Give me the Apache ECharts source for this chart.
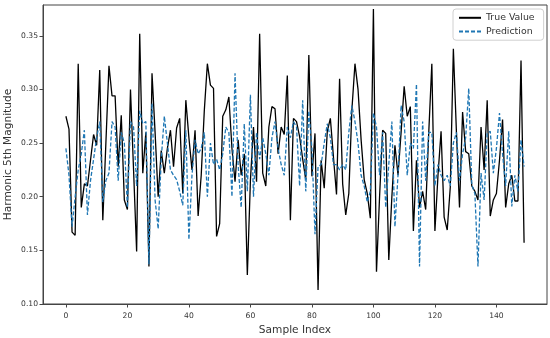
<!DOCTYPE html>
<html>
<head>
<meta charset="utf-8">
<script src="https://cdn.jsdelivr.net/npm/echarts@6/dist/echarts.min.js"></script>
<style>html,body{margin:0;padding:0;background:#fff}#chart{width:550px;height:338px}</style>
</head>
<body>
<div id="chart"></div>
<script>
const trueValues = [
0.275,0.263,0.167,0.164,0.324,0.19,0.212,0.21,0.234,0.258,
0.248,0.318,0.178,0.25,0.322,0.294,0.294,0.228,0.276,0.197,
0.188,0.3,0.225,0.149,0.352,0.222,0.26,0.135,0.315,0.26,
0.2,0.243,0.222,0.245,0.262,0.228,0.264,0.273,0.203,0.29,
0.255,0.225,0.262,0.182,0.22,0.28,0.324,0.304,0.301,0.163,
0.175,0.275,0.281,0.293,0.245,0.214,0.253,0.22,0.24,0.127,
0.215,0.265,0.214,0.352,0.222,0.21,0.265,0.284,0.282,0.24,
0.265,0.258,0.313,0.178,0.273,0.27,0.256,0.235,0.216,0.332,
0.219,0.259,0.113,0.234,0.208,0.261,0.273,0.237,0.202,0.31,
0.212,0.183,0.203,0.281,0.324,0.3,0.253,0.216,0.203,0.18,
0.375,0.13,0.2,0.262,0.259,0.141,0.2,0.248,0.22,0.26,
0.303,0.275,0.284,0.168,0.234,0.19,0.205,0.188,0.26,0.324,
0.168,0.22,0.261,0.181,0.169,0.209,0.338,0.26,0.19,0.279,
0.242,0.24,0.21,0.205,0.197,0.265,0.225,0.29,0.182,0.197,
0.203,0.234,0.272,0.19,0.212,0.22,0.196,0.196,0.327,0.157
];
const predictions = [
0.245,0.22,0.172,0.2,0.225,0.24,0.262,0.183,0.215,0.235,
0.255,0.27,0.195,0.215,0.222,0.27,0.265,0.215,0.26,0.25,
0.19,0.27,0.265,0.21,0.28,0.268,0.27,0.137,0.287,0.197,
0.17,0.235,0.275,0.25,0.225,0.22,0.216,0.205,0.192,0.262,
0.16,0.22,0.253,0.24,0.245,0.26,0.2,0.25,0.23,0.235,
0.225,0.24,0.265,0.26,0.2,0.315,0.23,0.19,0.268,0.205,
0.295,0.2,0.26,0.235,0.255,0.24,0.22,0.255,0.27,0.245,
0.23,0.22,0.265,0.255,0.27,0.265,0.21,0.29,0.205,0.28,
0.245,0.165,0.228,0.23,0.25,0.268,0.255,0.23,0.23,0.225,
0.23,0.225,0.26,0.285,0.27,0.25,0.22,0.21,0.195,0.205,
0.278,0.265,0.22,0.26,0.19,0.23,0.27,0.172,0.22,0.285,
0.27,0.22,0.25,0.245,0.305,0.135,0.27,0.215,0.26,0.26,
0.21,0.23,0.22,0.215,0.22,0.21,0.25,0.26,0.215,0.24,
0.255,0.301,0.211,0.203,0.135,0.222,0.197,0.259,0.261,0.222,
0.245,0.278,0.24,0.21,0.261,0.191,0.22,0.205,0.253,0.228
];
const xTicks = [0,20,40,60,80,100,120,140];
const yTicks = [0.10,0.15,0.20,0.25,0.30,0.35];

const font = 'DejaVu Sans';
const axisColor = '#444';
const chart = echarts.init(document.getElementById('chart'), null, {renderer:'canvas'});
const toPairs = arr => arr.map((v,i)=>[i,v]);
chart.setOption({
  animation:false,
  backgroundColor:'#fff',
  textStyle:{fontFamily:font},
  grid:{left:43,right:3,top:5,bottom:34,outerBoundsMode:'none',containLabel:false,
        show:true,borderColor:axisColor,borderWidth:1,backgroundColor:'#fff'},
  legend:{
    orient:'vertical', left:453, top:9,
    backgroundColor:'rgba(255,255,255,0.8)', borderColor:'#d0d0d0', borderWidth:1, borderRadius:3,
    padding:[4,9,4,5], itemGap:4, itemWidth:22, itemHeight:12,
    itemStyle:{opacity:0},
    textStyle:{fontFamily:font,fontSize:9.4,color:'#333'},
    data:['True Value','Prediction']
  },
  xAxis:{
    type:'value', min:-7.45, max:156.45,
    name:'Sample Index', nameLocation:'middle', nameGap:21, nameMoveOverlap:false,
    nameTextStyle:{fontFamily:font,fontSize:10.6,color:'#333'},
    axisLine:{show:true,onZero:false,lineStyle:{color:axisColor,width:1}},
    axisTick:{show:true,customValues:xTicks,length:3.5,lineStyle:{color:axisColor}},
    axisLabel:{customValues:xTicks,fontFamily:font,fontSize:7.6,color:'#333',margin:8},
    splitLine:{show:false}
  },
  yAxis:{
    type:'value', min:0.10, max:0.3787,
    name:'Harmonic 5th Magnitude', nameLocation:'middle', nameGap:29, nameMoveOverlap:false,
    nameTextStyle:{fontFamily:font,fontSize:10.6,color:'#333'},
    axisLine:{show:true,onZero:false,lineStyle:{color:axisColor,width:1}},
    axisTick:{show:true,customValues:yTicks,length:3.5,lineStyle:{color:axisColor}},
    axisLabel:{customValues:yTicks,fontFamily:font,fontSize:7.6,color:'#333',margin:5,
      formatter:v=>v.toFixed(2)},
    splitLine:{show:false}
  },
  series:[
    {name:'True Value', type:'line', data:toPairs(trueValues), symbol:'none',
     lineStyle:{color:'#000',width:1.3}, itemStyle:{color:'#000'}, z:2},
    {name:'Prediction', type:'line', data:toPairs(predictions), symbol:'none',
     lineStyle:{color:'#1f77b4',width:1.3,type:[4,2]}, itemStyle:{color:'#1f77b4'}, z:3}
  ]
});
</script>
</body>
</html>
